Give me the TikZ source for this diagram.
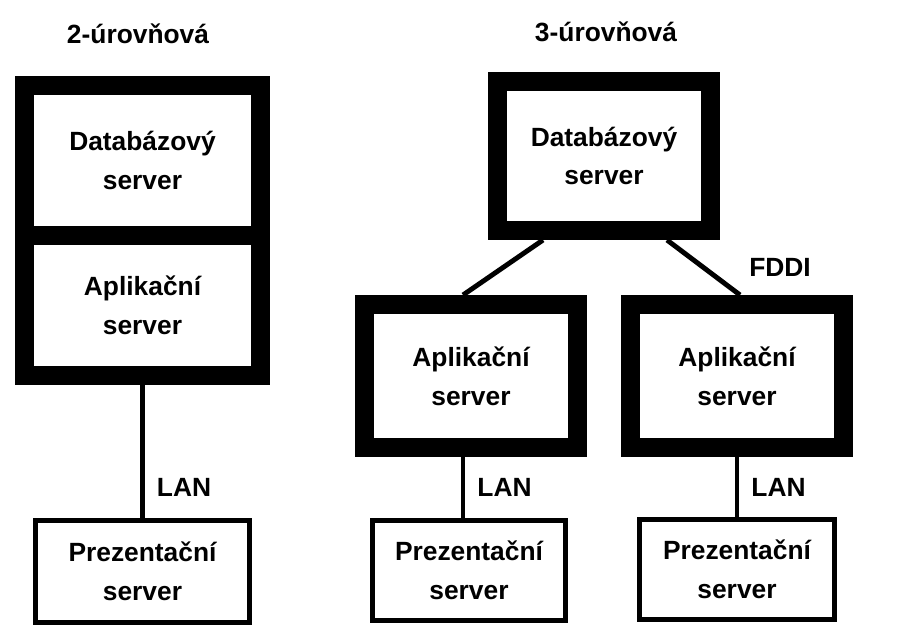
\documentclass[tikz,border=0pt]{standalone}
\usepackage{fontspec}
\setmainfont{Liberation Sans}
\usetikzlibrary{positioning, calc}
\tikzset{
  every picture/.style={font=\bfseries\fontsize{15}{22}\selectfont, line width=2.8pt},
  box/.style={draw=black, fill=white, align=center, line width=#1},
  box/.default=2.8pt,
  link/.style={draw=black, line width=2.8pt},
  title/.style={font=\bfseries\fontsize{15}{22}\selectfont},
  note/.style={font=\bfseries\fontsize{15}{22}\selectfont, xshift=3.5pt},
}

\begin{document}
\begin{tikzpicture}[
  srv/.style={box=0.38cm, minimum width=4.26cm, minimum height=2.86cm},
  pres/.style={box=0.1cm, minimum width=3.9cm, minimum height=2.0cm}]
  \useasboundingbox (0,0) rectangle (18.08,-12.6);
  % two tiers: database and application in one block
  \node[title] (t2) at (2.76,-0.68) {2-úrovňová};
  \node[srv, minimum width=4.72cm, minimum height=3.0cm] (db2) at (2.85,-3.21) {Databázový\\server};
  \node[srv, minimum width=4.72cm, minimum height=2.8cm] (app2) at (2.85,-6.11) {Aplikační\\server};
  \node[pres, minimum width=4.28cm, minimum height=2.04cm] (pre2) at (2.85,-11.43) {Prezentační\\server};
  \draw[link] (app2) -- node[pos=0.77, right, note] {LAN} (pre2);
  % three tiers
  \node[title] (t3) at (12.12,-0.64) {3-úrovňová};
  \node[srv, minimum height=2.98cm] (db3) at (12.08,-3.12) {Databázový\\server};
  \node[srv] (appl) at (9.42,-7.52) {Aplikační\\server};
  \node[srv] (appr) at (14.74,-7.52) {Aplikační\\server};
  \node[pres, minimum width=3.86cm] (prel) at (9.38,-11.41) {Prezentační\\server};
  \node[pres] (prer) at (14.74,-11.39) {Prezentační\\server};
  \draw[link] ([xshift=-1.22cm]db3.south) -- ([xshift=-0.16cm]appl.north);
  \draw[link] ([xshift=1.26cm]db3.south) -- ([xshift=0.06cm]appr.north);
  \node[title] (fddi) at (15.6,-5.34) {FDDI};
  \draw[link] ([xshift=-0.16cm]appl.south) -- ([xshift=-0.16cm]appl.south |- prel.north) node[midway, right, note] {LAN};
  \draw[link] (appr) -- node[right, note] {LAN} (prer);
\end{tikzpicture}
\end{document}
